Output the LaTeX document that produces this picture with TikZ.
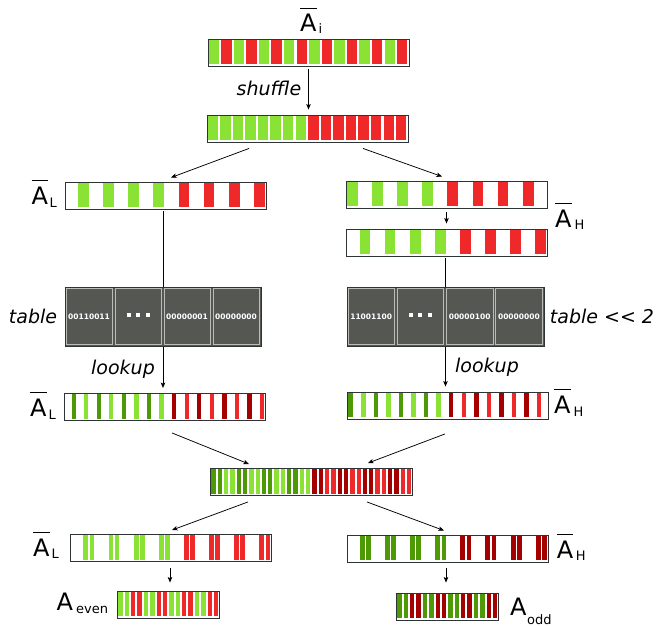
\documentclass[tikz,border=0pt]{standalone}
\usepackage{fontspec}
\setmainfont{DejaVu Sans}
\usetikzlibrary{arrows.meta,calc}

\definecolor{lgreen}{HTML}{8AE234}
\definecolor{dgreen}{HTML}{4E9A06}
\definecolor{lred}{HTML}{EF2929}
\definecolor{dred}{HTML}{A40000}
\definecolor{tabfill}{HTML}{555753}
\definecolor{tabline}{HTML}{BABDB6}
\definecolor{barline}{HTML}{2E3436}

% letter with a bar over it
\newcommand\barred[1]{\leavevmode\setbox0\hbox{#1}%
  \rlap{\rule[\dimexpr\ht0+6pt\relax]{\wd0}{0.9pt}}\box0}
% lowered subscript: text, kern before it, drop below the baseline
\newcommand\lowsub[3]{\kern#2\raisebox{-#3}{\fontsize{13}{13}\selectfont #1}}

\tikzset{
  bar/.style={draw=barline, line width=0.9pt, fill=white, inner sep=0pt,
    minimum width=201pt, minimum height=27pt},
  halfbar/.style={bar, minimum width=102pt},
  tabbox/.style={draw=barline, line width=0.9pt, fill=tabfill, inner sep=0pt,
    minimum height=59pt},
  cellbox/.style={draw=tabline, line width=0.7pt, inner sep=0pt,
    minimum height=55.5pt, text=white,
    font=\fontsize{7.5}{8}\selectfont\bfseries},
  lbl/.style={inner sep=0pt, anchor=base west, font=\fontsize{24}{24}\selectfont},
  note/.style={inner sep=0pt, font=\fontsize{19}{19}\selectfont\itshape},
  arr/.style={line width=0.75pt, -{Stealth[length=5.5pt,width=4.5pt,inset=1.2pt]}},
  link/.style={line width=0.75pt},
}

\begin{document}
\begin{tikzpicture}[x=1pt, y=-1pt]
\useasboundingbox (0,0) rectangle (659,626);

% ---------- bars ----------
\node[bar] (b1)  at (308.5,52.5) {};
\node[bar] (b2)  at (307.5,128.5) {};
\node[bar] (bL)  at (165.5,195.5) {};
\node[bar] (bH)  at (447,194.5) {};
\node[bar] (bH2) at (447,242.5) {};
\node[bar] (lL)  at (165,407) {};
\node[bar] (lH)  at (448,405.5) {};
\node[bar, minimum width=202pt] (m) at (311,482) {};
\node[bar] (oL)  at (171,548) {};
\node[bar] (oH)  at (447.5,548.5) {};
\node[halfbar] (ev) at (168,604.5) {};
\node[halfbar] (od) at (447,606.5) {};

% input: alternating cells
\begin{scope}[shift={(b1.north west)}]
  \foreach \i in {0,...,15}{
    \ifodd\i \def\c{lred}\else\def\c{lgreen}\fi
    \fill[\c] ({\i*12.5625+1.1},1.4) rectangle ({(\i+1)*12.5625-1.1},25.6);
  }
\end{scope}
% shuffled: green half, red half
\begin{scope}[shift={(b2.north west)}]
  \foreach \i in {0,...,15}{
    \ifnum\i<8 \def\c{lgreen}\else\def\c{lred}\fi
    \fill[\c] ({\i*12.5625+1.1},1.4) rectangle ({(\i+1)*12.5625-1.1},25.6);
  }
\end{scope}
% low part: odd cells
\begin{scope}[shift={(bL.north west)}]
  \foreach \i in {1,3,...,15}{
    \ifnum\i<8 \def\c{lgreen}\else\def\c{lred}\fi
    \fill[\c] ({\i*12.5625+0.9},1.4) rectangle ({(\i+1)*12.5625-0.9},25.6);
  }
\end{scope}
% high part: even cells
\begin{scope}[shift={(bH.north west)}]
  \foreach \i in {0,2,...,14}{
    \ifnum\i<8 \def\c{lgreen}\else\def\c{lred}\fi
    \fill[\c] ({\i*12.5625+0.9},1.4) rectangle ({(\i+1)*12.5625-0.9},25.6);
  }
\end{scope}
% high part shifted by one cell
\begin{scope}[shift={(bH2.north west)}]
  \foreach \i in {1,3,...,15}{
    \ifnum\i<8 \def\c{lgreen}\else\def\c{lred}\fi
    \fill[\c] ({\i*12.5625+0.9},1.4) rectangle ({(\i+1)*12.5625-0.9},25.6);
  }
\end{scope}
% looked-up low part: thin stripes at the right of each cell
\begin{scope}[shift={(lL.north west)}]
  \foreach \i in {0,...,15}{
    \ifnum\i<8 \ifodd\i \def\c{lgreen}\else\def\c{dgreen}\fi
    \else \ifodd\i \def\c{lred}\else\def\c{dred}\fi \fi
    \fill[\c] ({\i*12.5625+7.5},1.4) rectangle ({\i*12.5625+11.7},25.6);
  }
\end{scope}
% looked-up high part: thin stripes at the left of each cell
\begin{scope}[shift={(lH.north west)}]
  \foreach \i in {0,...,15}{
    \ifnum\i<8 \ifodd\i \def\c{lgreen}\else\def\c{dgreen}\fi
    \else \ifodd\i \def\c{lred}\else\def\c{dred}\fi \fi
    \fill[\c] ({\i*12.5625+1.4},1.4) rectangle ({\i*12.5625+5.9},25.6);
  }
\end{scope}
% merged: 32 stripes in pairs
\begin{scope}[shift={(m.north west)}]
  \foreach \i in {0,...,31}{
    \pgfmathtruncatemacro\p{mod(floor(\i/2),2)}
    \ifnum\i<16 \ifnum\p=0 \def\c{dgreen}\else\def\c{lgreen}\fi
    \else \ifnum\p=0 \def\c{dred}\else\def\c{lred}\fi \fi
    \fill[\c] ({\i*6.3125+1.8},1.4) rectangle ({\i*6.3125+6.1},25.6);
  }
\end{scope}
% split again: pairs at the right of each group
\begin{scope}[shift={(oL.north west)}]
  \foreach \g in {0,...,7}{
    \ifnum\g<4 \def\c{lgreen}\else\def\c{lred}\fi
    \fill[\c] ({\g*25.125+13.4},1.4) rectangle ({\g*25.125+18.2},25.6);
    \fill[\c] ({\g*25.125+19.6},1.4) rectangle ({\g*25.125+24.2},25.6);
  }
\end{scope}
\begin{scope}[shift={(oH.north west)}]
  \foreach \g in {0,...,7}{
    \ifnum\g<4 \def\c{dgreen}\else\def\c{dred}\fi
    \fill[\c] ({\g*25.125+13.2},1.4) rectangle ({\g*25.125+18.2},25.6);
    \fill[\c] ({\g*25.125+19.6},1.4) rectangle ({\g*25.125+24.3},25.6);
  }
\end{scope}
% packed results
\begin{scope}[shift={(ev.north west)}]
  \foreach \i in {0,...,15}{
    \pgfmathtruncatemacro\p{mod(floor(\i/2),2)}
    \ifnum\p=0 \def\c{lgreen}\else\def\c{lred}\fi
    \fill[\c] ({\i*6.375+1.7},1.4) rectangle ({\i*6.375+6.1},25.6);
  }
\end{scope}
\begin{scope}[shift={(od.north west)}]
  \foreach \i in {0,...,15}{
    \pgfmathtruncatemacro\p{mod(floor(\i/2),2)}
    \ifnum\p=0 \def\c{dgreen}\else\def\c{dred}\fi
    \fill[\c] ({\i*6.375+1.7},1.4) rectangle ({\i*6.375+6.1},25.6);
  }
\end{scope}

% ---------- lookup tables ----------
\node[tabbox, minimum width=196pt] (tL) at (163,316.5) {};
\foreach \k/\t in {0/00110011,1/{},2/00000001,3/00000000}
  \node[cellbox, minimum width=46.4pt] (tL\k) at ($(tL.west)+({24.5+49*\k},0)$) {\t};
\node[tabbox, minimum width=197pt] (tH) at (445.5,316.5) {};
\foreach \k/\t in {0/11001100,1/{},2/00000100,3/00000000}
  \node[cellbox, minimum width=46.6pt] (tH\k) at ($(tH.west)+({24.625+49.25*\k},0)$) {\t};
\foreach \n in {tL1,tH1}
  \foreach \d in {-9.5,0,9.5}
    \fill[white] ($(\n.center)+(\d,-1.5)$) ++(-2,-2) rectangle ++(4,4);

% ---------- labels ----------
\node[lbl] (nAi) at (300,32) {\barred{A}\lowsub{i}{2pt}{2pt}};
\node[lbl] (nL1) at (31.5,204) {\barred{A}\lowsub{L}{1.5pt}{3.5pt}};
\node[lbl] (nH1) at (555,227) {\barred{A}\lowsub{H}{3pt}{2pt}};
\node[lbl] (nL2) at (30,416.5) {\barred{A}\lowsub{L}{2pt}{2.5pt}};
\node[lbl] (nH2) at (554,413) {\barred{A}\lowsub{H}{3pt}{3pt}};
\node[lbl] (nL3) at (33,556.7) {\barred{A}\lowsub{L}{2pt}{1.5pt}};
\node[lbl] (nH3) at (556.7,558) {\barred{A}\lowsub{H}{2.5pt}{2pt}};
\node[lbl] (nEv) at (56.5,610) {A\lowsub{even}{3pt}{3pt}};
\node[lbl] (nOd) at (510,615) {A\lowsub{odd}{0.5pt}{9pt}};

\node[note] (shuf) at (269,88) {shuffle};
\node[note] (tabl) at (33,316) {table};
\node[note] (tabh) at (602,316) {table <\kern0pt< 2};
\node[note] (lkL)  at (123,369) {lookup};
\node[note] (lkH)  at (487,367) {lookup};

% ---------- connectors ----------
\draw[arr] ([yshift=-3pt]b1.south) -- ([yshift=5pt]b1.south |- b2.north);
\draw[arr] ($(b2.south)+(-58.5,6)$) -- ($(bL.north)+(5.5,-4)$);
\draw[arr] ($(b2.south)+(55.5,6)$) -- ($(bH.north)+(-5,-4)$);
\draw[arr] ($(bH.south)+(-0.5,3.5)$) -- ($(bH2.north)+(-0.5,-5)$);
\draw[link] ($(bL.south -| tL.north)+(0,2)$) -- (tL.north);
\draw[link] ($(bH2.south -| tH.north)+(0,2)$) -- (tH.north);
\draw[arr] ($(tL.south)+(0,1)$) -- ($(tL.south |- lL.north)+(0,-5)$);
\draw[arr] ($(tH.south)+(0,1)$) -- ($(tH.south |- lH.north)+(0,-5)$);
\draw[arr] ($(lL.south)+(7,12)$) -- ($(m.north)+(-62,-4)$);
\draw[arr] ($(lH.south)+(-3,14.5)$) -- ($(m.north)+(57,-5)$);
\draw[arr] ($(m.south)+(-63,6)$) -- ($(oL.north)+(1,-4)$);
\draw[arr] ($(m.south)+(56,6)$) -- ($(oH.north)+(-3.5,-4)$);
\draw[arr] ($(oL.south)+(-1,6)$) -- ($(oL.south |- ev.north)+(-1,-8)$);
\draw[arr] ($(oH.south)+(-1.5,6)$) -- ($(oH.south |- od.north)+(-1.5,-10)$);
\end{tikzpicture}
\end{document}
